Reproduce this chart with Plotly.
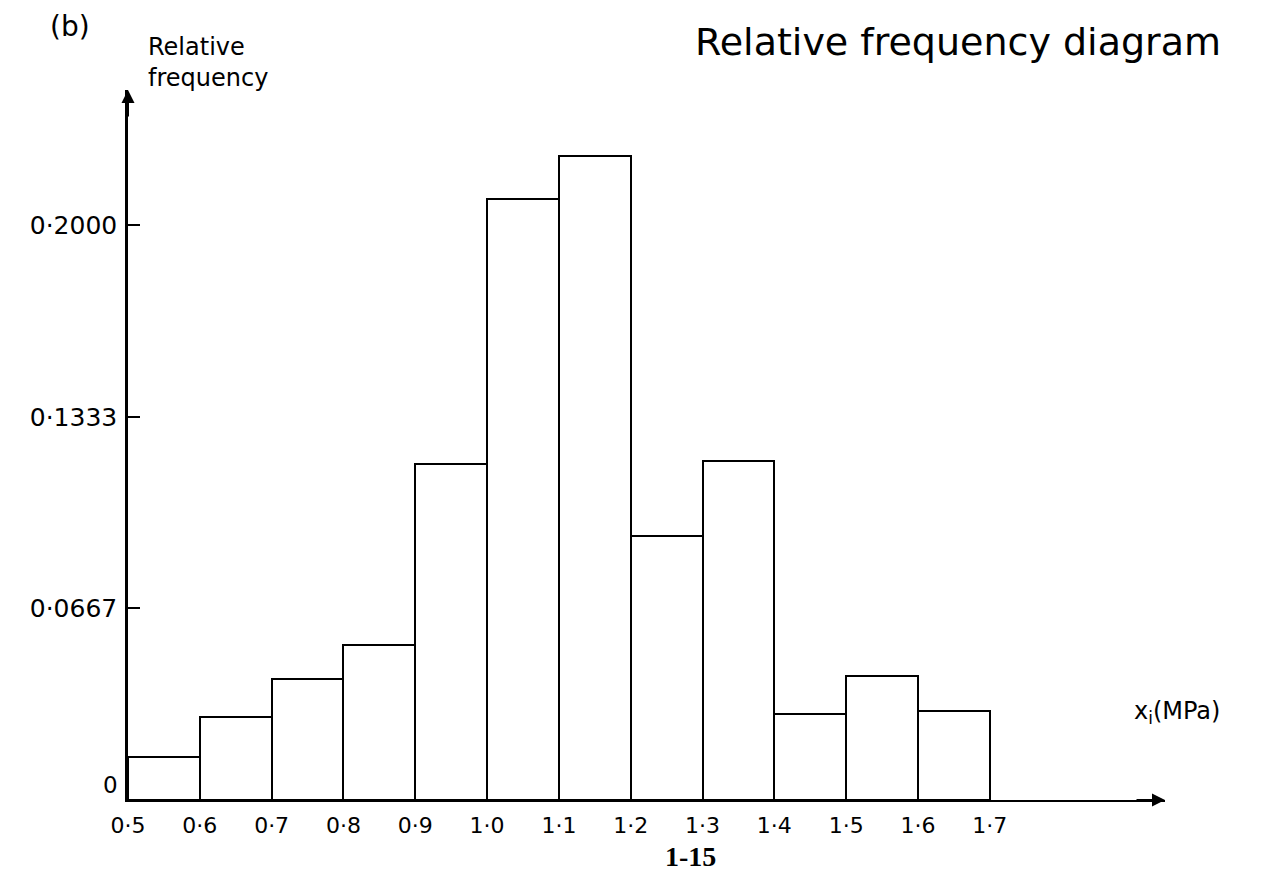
import plotly.graph_objects as go

# ---- data ----
bin_left = [0.5, 0.6, 0.7, 0.8, 0.9, 1.0, 1.1, 1.2, 1.3, 1.4, 1.5, 1.6]
bin_width = 0.1
rel_freq = [0.015, 0.029, 0.042, 0.054, 0.117, 0.209, 0.224, 0.092, 0.118, 0.030, 0.043, 0.031]

x_tick_vals = [0.5, 0.6, 0.7, 0.8, 0.9, 1.0, 1.1, 1.2, 1.3, 1.4, 1.5, 1.6, 1.7]
x_tick_text = ["0·5", "0·6", "0·7", "0·8", "0·9", "1·0", "1·1", "1·2", "1·3", "1·4", "1·5", "1·6", "1·7"]
y_tick_vals = [0.0667, 0.1333, 0.2000]
y_tick_text = ["0·0667", "0·1333", "0·2000"]

X_MAX = 1.944
Y_MAX = 0.247
FONT = "DejaVu Sans"

# page offset of the figure inside the browser (body margin)
OFF = 8
W, H = 1265, 868
L, R, T, B = 120, 108, 82, 76

fig = go.Figure()
fig.add_trace(go.Bar(
    x=bin_left, y=rel_freq, width=bin_width, offset=0,
    marker=dict(color="white", line=dict(color="black", width=2)),
    showlegend=False, hoverinfo="x+y",
))

fig.update_layout(
    width=W, height=H,
    margin=dict(l=L, r=R, t=T, b=B),
    paper_bgcolor="white", plot_bgcolor="white",
    font=dict(family=FONT, color="black"),
    xaxis=dict(
        range=[0.5, X_MAX], showgrid=False, zeroline=False,
        showline=True, linecolor="black", linewidth=2,
        tickvals=x_tick_vals, ticktext=x_tick_text,
        ticks="", tickfont=dict(size=22, family=FONT), ticklabelstandoff=5,
    ),
    yaxis=dict(
        range=[0, Y_MAX], showgrid=False, zeroline=False,
        showline=True, linecolor="black", linewidth=2.5,
        tickvals=y_tick_vals, ticktext=y_tick_text,
        ticks="inside", ticklen=12, tickwidth=2, tickcolor="black",
        tickfont=dict(size=25, family=FONT), ticklabelstandoff=3,
    ),
    bargap=0,
)

ann = []
# axis arrows
ann.append(dict(x=0.5, y=Y_MAX, xref="x", yref="y", ax=0, ay=28,
                showarrow=True, arrowhead=2, arrowsize=1.3, arrowwidth=2, arrowcolor="black", text=""))
ann.append(dict(x=X_MAX, y=0, xref="x", yref="y", ax=-30, ay=0,
                showarrow=True, arrowhead=2, arrowsize=1.3, arrowwidth=2, arrowcolor="black", text=""))
# origin label
ann.append(dict(xref="x domain", yref="y domain", x=-0.026, y=0.0, text="0", showarrow=False,
                font=dict(size=23, family=FONT)))

# texts placed at page pixel positions
page_texts = [
    dict(x=70, y=27, text="(b)", font=dict(size=28, family=FONT)),
    dict(x=146, y=62, text="Relative<br>frequency", font=dict(size=24, family=FONT), xanchor="left", align="left"),
    dict(x=958, y=42, text="Relative frequency diagram", font=dict(size=38, family=FONT)),
    dict(x=1132, y=712, text="x<sub>i</sub>(MPa)", font=dict(size=24, family=FONT), xanchor="left"),
    dict(x=690, y=857, text="<b>1-15</b>", font=dict(size=28, family="Liberation Serif")),
]
pw = W - L - R
ph = H - T - B
for a in page_texts:
    px, py = a["x"] - OFF, a["y"] - OFF
    a["x"] = (px - L) / pw
    a["y"] = 1 - (py - T) / ph
    a["xref"] = "paper"
    a["yref"] = "paper"
    a["showarrow"] = False
    a.setdefault("xanchor", "center")
    a["yanchor"] = "middle"
    ann.append(a)

fig.update_layout(annotations=ann)

fig.write_html("out.html")
